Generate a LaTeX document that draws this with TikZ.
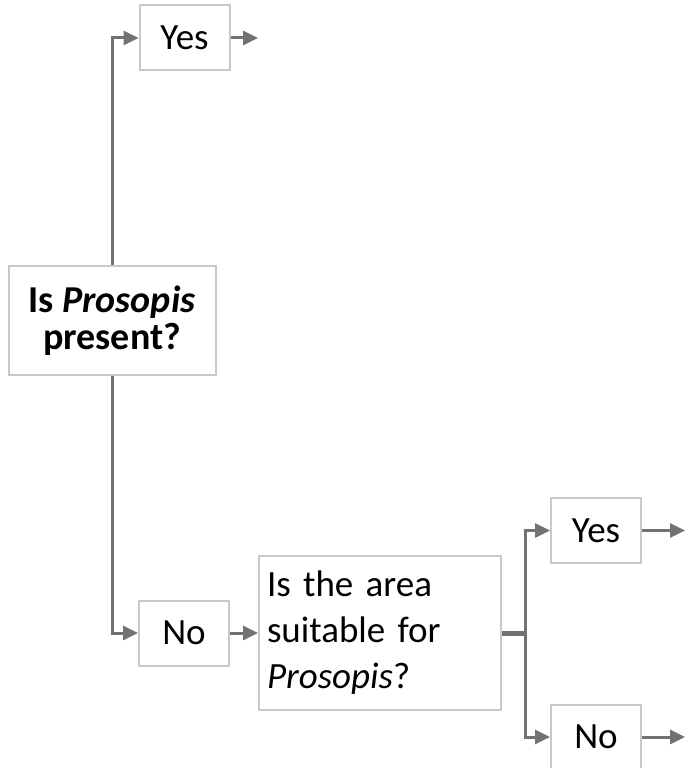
\documentclass[tikz,border=0pt]{standalone}
\usepackage{fontspec}
\setmainfont{Carlito}
\usetikzlibrary{arrows.meta}
\definecolor{linegray}{RGB}{118,113,113}
\definecolor{boxgray}{RGB}{200,200,200}

\begin{document}
\begin{tikzpicture}
  [x=1pt, y=-1pt,
   box/.style={draw=boxgray, line width=2pt, inner sep=0pt, font=\fontsize{37}{46}\selectfont},
   ans/.style={box, minimum width=90pt, minimum height=65pt},
   conn/.style={draw=linegray, line width=3pt},
   arr/.style={conn, -{Triangle[length=15pt, width=14pt]}}]
  \useasboundingbox (0,0) rectangle (685,768);
  \node[box, minimum width=207pt, minimum height=109pt, align=center,
        font=\fontsize{38}{37}\selectfont\bfseries] (q1) at (112,320.5) {Is \textit{Prosopis}\\present?};
  \node[ans] (y1) at (184.5,38) {Yes};
  \node[ans] (n1) at (184,633) {No};
  \node[box, minimum height=154pt, text width=226pt, inner xsep=8pt, align=left] (q2) at (380,633)
    {Is the area\\suitable for\\\textit{Prosopis}?};
  \node[ans] (y2) at (596,530.5) {Yes};
  \node[ans] (n2) at (596,737) {No};

  \coordinate (split) at (525,633);
  \coordinate (out1) at (258,38);
  \coordinate (out2) at (685,530.5);
  \coordinate (out3) at (685,737);

  \foreach \from/\to in {q1/y1,q1/n1,split/y2,split/n2}
  \draw[arr] (\from) |- (\to);
  \foreach \from/\to in {n1/q2,y1/out1,y2/out2,n2/out3}
  \draw[arr] (\from) -- (\to);
  \draw[conn, line width=5pt] (q2) -- (split);

\end{tikzpicture}
\end{document}
